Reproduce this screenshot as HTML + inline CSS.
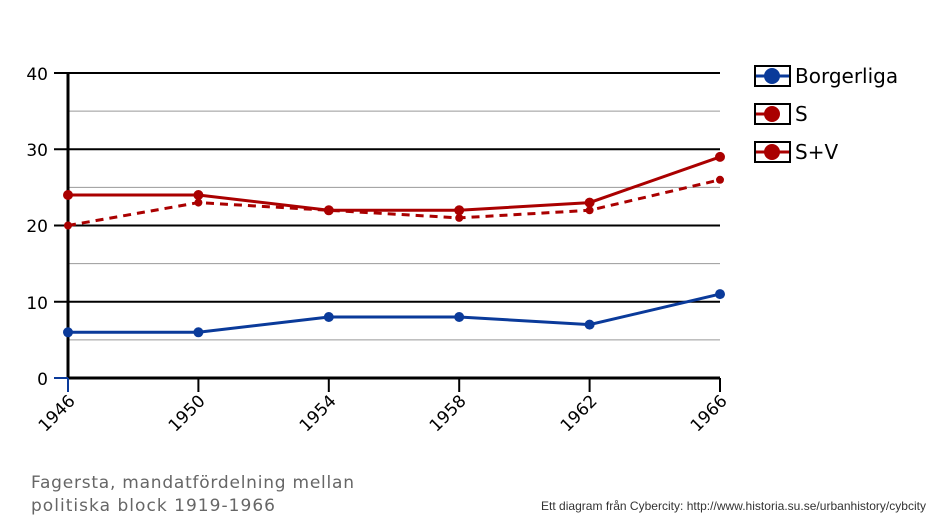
<!DOCTYPE html>
<html><head><meta charset="utf-8"><style>body{margin:0;background:#fff}svg{display:block}</style></head><body>
<svg width="938" height="521" xmlns="http://www.w3.org/2000/svg" font-family="'DejaVu Sans','Liberation Sans',sans-serif">
<g stroke="#999" stroke-width="1">
<line x1="68" y1="339.9" x2="720" y2="339.9"/><line x1="68" y1="263.6" x2="720" y2="263.6"/>
<line x1="68" y1="187.4" x2="720" y2="187.4"/><line x1="68" y1="111.1" x2="720" y2="111.1"/>
</g>
<g stroke="#000" stroke-width="2">
<line x1="54" y1="73" x2="720" y2="73"/><line x1="54" y1="149.3" x2="720" y2="149.3"/>
<line x1="54" y1="225.5" x2="720" y2="225.5"/><line x1="54" y1="301.8" x2="720" y2="301.8"/>
<line x1="68" y1="378" x2="720" y2="378" stroke-width="3"/>
<line x1="68" y1="73" x2="68" y2="378" stroke-width="3"/>
<line x1="198.4" y1="378" x2="198.4" y2="392"/><line x1="328.8" y1="378" x2="328.8" y2="392"/>
<line x1="459.2" y1="378" x2="459.2" y2="392"/><line x1="589.6" y1="378" x2="589.6" y2="392"/>
<line x1="720" y1="378" x2="720" y2="392"/>
</g>
<line x1="54" y1="378" x2="68" y2="378" stroke="#0a3a9a" stroke-width="2"/>
<line x1="68" y1="378" x2="68" y2="392" stroke="#0a3a9a" stroke-width="2"/>
<g font-size="17" text-anchor="end" fill="#000">
<text x="48" y="80">40</text><text x="48" y="156">30</text><text x="48" y="232">20</text><text x="48" y="309">10</text><text x="48" y="385">0</text>
</g>
<g font-size="17" text-anchor="end" fill="#000">
<text transform="translate(76,402) rotate(-45)">1946</text>
<text transform="translate(206,402) rotate(-45)">1950</text>
<text transform="translate(337,402) rotate(-45)">1954</text>
<text transform="translate(467,402) rotate(-45)">1958</text>
<text transform="translate(598,402) rotate(-45)">1962</text>
<text transform="translate(728,402) rotate(-45)">1966</text>
</g>
<g fill="none" stroke-width="3">
<polyline stroke="#0a3a9a" points="68,332.3 198.4,332.3 328.8,317 459.2,317 589.6,324.6 720,294.1"/>
<polyline stroke="#a00" stroke-dasharray="8,6" points="68,225.5 198.4,202.6 328.8,210.3 459.2,217.9 589.6,210.3 720,179.8"/>
<polyline stroke="#a00" points="68,195 198.4,195 328.8,210.3 459.2,210.3 589.6,202.6 720,156.9"/>
</g>
<g fill="#0a3a9a"><circle cx="68" cy="332.3" r="5"/><circle cx="198.4" cy="332.3" r="5"/><circle cx="328.8" cy="317" r="5"/><circle cx="459.2" cy="317" r="5"/><circle cx="589.6" cy="324.6" r="5"/><circle cx="720" cy="294.1" r="5"/></g>
<g fill="#a00"><circle cx="68" cy="225.5" r="4"/><circle cx="198.4" cy="202.6" r="4"/><circle cx="328.8" cy="210.3" r="4"/><circle cx="459.2" cy="217.9" r="4"/><circle cx="589.6" cy="210.3" r="4"/><circle cx="720" cy="179.8" r="4"/>
<circle cx="68" cy="195" r="5"/><circle cx="198.4" cy="195" r="5"/><circle cx="328.8" cy="210.3" r="5"/><circle cx="459.2" cy="210.3" r="5"/><circle cx="589.6" cy="202.6" r="5"/><circle cx="720" cy="156.9" r="5"/></g>
<g>
<rect x="755" y="66" width="35" height="20" fill="#fff" stroke="#000" stroke-width="2"/>
<line x1="756" y1="76" x2="789" y2="76" stroke="#0a3a9a" stroke-width="3"/><circle cx="772" cy="76" r="8" fill="#0a3a9a"/>
<rect x="755" y="104" width="35" height="20" fill="#fff" stroke="#000" stroke-width="2"/>
<line x1="756" y1="114" x2="772" y2="114" stroke="#a00" stroke-width="3"/><circle cx="772" cy="114" r="8" fill="#a00"/>
<rect x="755" y="142" width="35" height="20" fill="#fff" stroke="#000" stroke-width="2"/>
<line x1="756" y1="152" x2="789" y2="152" stroke="#a00" stroke-width="3"/><circle cx="772" cy="152" r="8" fill="#a00"/>
<g font-size="20" fill="#000"><text x="795" y="83">Borgerliga</text><text x="795" y="121">S</text><text x="795" y="159">S+V</text></g>
</g>
<g font-size="17" fill="#666"><text x="31" y="488" textLength="323">Fagersta, mandatfördelning  mellan</text><text x="31" y="511" textLength="244">politiska block 1919-1966</text></g>
<text x="926" y="510" font-size="12" fill="#333" text-anchor="end" font-family="'Liberation Sans',sans-serif" textLength="385">Ett diagram från Cybercity: http://www.historia.su.se/urbanhistory/cybcity</text>
</svg>
</body></html>
